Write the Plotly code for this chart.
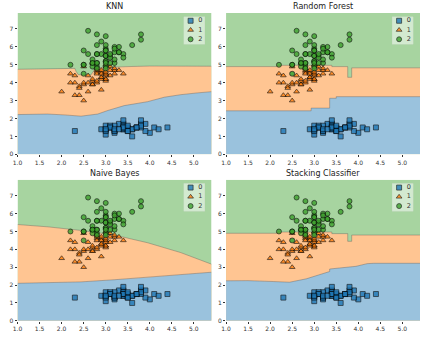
import plotly.graph_objects as go

# Iris features: sepal width (x) and petal length (y), per class
SW_0 = [3.5, 3.0, 3.2, 3.1, 3.6, 3.9, 3.4, 3.4, 2.9, 3.1, 3.7, 3.4, 3.0, 3.0, 4.0, 4.4, 3.9, 3.5, 3.8, 3.8,
        3.4, 3.7, 3.6, 3.3, 3.4, 3.0, 3.4, 3.5, 3.4, 3.2, 3.1, 3.4, 4.1, 4.2, 3.1, 3.2, 3.5, 3.6, 3.0, 3.4,
        3.5, 2.3, 3.2, 3.5, 3.8, 3.0, 3.8, 3.2, 3.7, 3.3]
PL_0 = [1.4, 1.4, 1.3, 1.5, 1.4, 1.7, 1.4, 1.5, 1.4, 1.5, 1.5, 1.6, 1.4, 1.1, 1.2, 1.5, 1.3, 1.4, 1.7, 1.5,
        1.7, 1.5, 1.0, 1.7, 1.9, 1.6, 1.6, 1.5, 1.4, 1.6, 1.6, 1.5, 1.5, 1.4, 1.5, 1.2, 1.3, 1.4, 1.3, 1.5,
        1.3, 1.3, 1.3, 1.6, 1.9, 1.4, 1.6, 1.4, 1.5, 1.4]
SW_1 = [3.2, 3.2, 3.1, 2.3, 2.8, 2.8, 3.3, 2.4, 2.9, 2.7, 2.0, 3.0, 2.2, 2.9, 2.9, 3.1, 3.0, 2.7, 2.2, 2.5,
        3.2, 2.8, 2.5, 2.8, 2.9, 3.0, 2.8, 3.0, 2.9, 2.6, 2.4, 2.4, 2.7, 2.7, 3.0, 3.4, 3.1, 2.3, 3.0, 2.5,
        2.6, 3.0, 2.6, 2.3, 2.7, 3.0, 2.9, 2.9, 2.5, 2.8]
PL_1 = [4.7, 4.5, 4.9, 4.0, 4.6, 4.5, 4.7, 3.3, 4.6, 3.9, 3.5, 4.2, 4.0, 4.7, 3.6, 4.4, 4.5, 4.1, 4.5, 3.9,
        4.8, 4.0, 4.9, 4.7, 4.3, 4.4, 4.8, 5.0, 4.5, 3.5, 3.8, 3.7, 3.9, 5.1, 4.5, 4.5, 4.7, 4.4, 4.1, 4.0,
        4.4, 4.6, 4.0, 3.3, 4.2, 4.2, 4.2, 4.3, 3.0, 4.1]
SW_2 = [3.3, 2.7, 3.0, 2.9, 3.0, 3.0, 2.5, 2.9, 2.5, 3.6, 3.2, 2.7, 3.0, 2.5, 2.8, 3.2, 3.0, 3.8, 2.6, 2.2,
        3.2, 2.8, 2.8, 2.7, 3.3, 3.2, 2.8, 3.0, 2.8, 3.0, 2.8, 3.8, 2.8, 2.8, 2.6, 3.0, 3.4, 3.1, 3.0, 3.1,
        3.1, 3.1, 2.7, 3.2, 3.3, 3.0, 2.5, 3.0, 3.4, 3.0]
PL_2 = [6.0, 5.1, 5.9, 5.6, 5.8, 6.6, 4.5, 6.3, 5.8, 6.1, 5.1, 5.3, 5.5, 5.0, 5.1, 5.3, 5.5, 6.7, 6.9, 5.0,
        5.7, 4.9, 6.7, 4.9, 5.7, 6.0, 4.8, 4.9, 5.6, 5.8, 6.1, 6.4, 5.6, 5.1, 5.6, 6.1, 5.6, 5.5, 4.8, 5.4,
        5.6, 5.1, 5.1, 5.9, 5.7, 5.2, 5.0, 5.2, 5.4, 5.1]

CLASS_LABELS = ["0", "1", "2"]
X_RANGE = [1.0, 5.4]
Y_RANGE = [0.0, 7.9]
X_TICKS = [1.0, 1.5, 2.0, 2.5, 3.0, 3.5, 4.0, 4.5, 5.0]
Y_TICKS = [0, 1, 2, 3, 4, 5, 6, 7]

TITLES = ["KNN", "Random Forest", "Naive Bayes", "Stacking Classifier"]

# Decision boundaries (class 1 / class 2 upper, class 0 / class 1 lower)
KNN_UP_X = [1.0, 1.8, 2.3, 2.33, 2.38, 2.66, 2.72, 2.76, 3.0, 3.5, 4.0, 4.6, 5.4]
KNN_UP_Y = [4.75, 4.77, 4.8, 4.62, 4.45, 4.43, 4.62, 4.83, 4.86, 4.9, 4.93, 4.93, 4.92]
KNN_LO_X = [1.0, 1.68, 2.07, 2.44, 2.82, 3.05, 3.42, 3.95, 4.33, 4.7, 5.08, 5.4]
KNN_LO_Y = [2.22, 2.25, 2.2, 2.13, 2.25, 2.45, 2.72, 2.94, 3.19, 3.33, 3.43, 3.5]

RF_UP_X = [1.0, 2.15, 2.15, 3.4, 3.4, 3.76, 3.76, 3.85, 3.85, 5.4]
RF_UP_Y = [4.9, 4.9, 4.97, 4.97, 4.9, 4.9, 4.3, 4.3, 4.83, 4.83]
RF_LO_X = [1.0, 2.93, 2.93, 3.35, 3.35, 3.5, 3.5, 5.4]
RF_LO_Y = [2.43, 2.43, 2.58, 2.58, 3.13, 3.13, 3.22, 3.22]

NB_UP_X = [1.0, 1.69, 2.44, 3.2, 3.95, 4.7, 5.4]
NB_UP_Y = [5.39, 5.26, 5.06, 4.8, 4.37, 3.82, 3.17]
NB_LO_X = [1.0, 2.44, 3.2, 3.95, 4.7, 5.4]
NB_LO_Y = [2.1, 2.18, 2.3, 2.43, 2.58, 2.72]

ST_UP_X = [1.0, 2.15, 2.15, 3.4, 3.4, 3.76, 3.76, 3.85, 3.85, 5.4]
ST_UP_Y = [4.9, 4.9, 4.97, 4.97, 4.88, 4.88, 4.45, 4.45, 4.8, 4.8]
ST_LO_X = [1.0, 1.5, 2.07, 2.44, 2.82, 3.2, 3.35, 3.35, 3.95, 4.2, 4.35, 5.4]
ST_LO_Y = [2.24, 2.25, 2.2, 2.16, 2.35, 2.62, 2.76, 2.9, 3.05, 3.2, 3.22, 3.22]

# small class-2 island around one point (tree based models)
ISLAND_X = [2.45, 2.55]
ISLAND_Y = [4.42, 4.6]

BOUNDS = [
    (KNN_UP_X, KNN_UP_Y, KNN_LO_X, KNN_LO_Y, False),
    (RF_UP_X, RF_UP_Y, RF_LO_X, RF_LO_Y, True),
    (NB_UP_X, NB_UP_Y, NB_LO_X, NB_LO_Y, False),
    (ST_UP_X, ST_UP_Y, ST_LO_X, ST_LO_Y, True),
]

MARK_COLORS = ["#1f77b4", "#ff7f0e", "#3ca02c"]
REGION_COLORS = ["#9ac2dd", "#ffc592", "#a7d4a0"]
SYMBOLS = ["square", "triangle-up", "circle"]
POINTS = [(SW_0, PL_0), (SW_1, PL_1), (SW_2, PL_2)]

W, H = 422, 337
# axes placement in pixels: (left, right) per column, (top, bottom) per row
COL_PX = [(12.7, 209.0), (223.7, 420.0)]
ROW_PX = [(13.0, 155.7), (181.3, 323.7)]

# legend key box, offsets from the axes' top-right corner (pixels)
LEG_BOX = dict(left=28.3, right=6.7, top=3.7, bottom=32.0)
LEG_KEY_X = 0.33
LEG_TEXT_X = 0.78
LEG_ROWS = [0.85, 0.52, 0.19]

FONT = "DejaVu Sans"


def px_x(v):
    return v / W


def px_y(v):
    return 1 - v / H


fig = go.Figure()
layout = dict(
    width=W, height=H, margin=dict(l=0, r=0, t=0, b=0),
    paper_bgcolor="white", plot_bgcolor="rgba(0,0,0,0)",
    font=dict(family=FONT, size=6, color="#333"),
    annotations=[], showlegend=False,
)

for i in range(4):
    n = i + 1
    sfx = "" if n == 1 else str(n)
    xa, ya = "x" + sfx, "y" + sfx
    col, row = i % 2, i // 2
    (L, R), (T, B) = COL_PX[col], ROW_PX[row]
    up_x, up_y, lo_x, lo_y, island = BOUNDS[i]
    x0, x1 = X_RANGE
    y0, y1 = Y_RANGE

    # class 2 region: whole plane
    fig.add_trace(go.Scatter(x=[x0, x1, x1, x0, x0], y=[y0, y0, y1, y1, y0], mode="lines",
                             fill="toself", fillcolor=REGION_COLORS[2], line=dict(width=0),
                             hoverinfo="skip", xaxis=xa, yaxis=ya))
    # class 1 region: below the upper boundary
    fig.add_trace(go.Scatter(x=[x0] + up_x + [x1, x0], y=[y0] + up_y + [y0, y0], mode="lines",
                             fill="toself", fillcolor=REGION_COLORS[1], line=dict(width=0),
                             hoverinfo="skip", xaxis=xa, yaxis=ya))
    # class 0 region: below the lower boundary
    fig.add_trace(go.Scatter(x=[x0] + lo_x + [x1, x0], y=[y0] + lo_y + [y0, y0], mode="lines",
                             fill="toself", fillcolor=REGION_COLORS[0], line=dict(width=0),
                             hoverinfo="skip", xaxis=xa, yaxis=ya))
    if island:
        ix0, ix1 = ISLAND_X
        iy0, iy1 = ISLAND_Y
        fig.add_trace(go.Scatter(x=[ix0, ix1, ix1, ix0, ix0], y=[iy0, iy0, iy1, iy1, iy0], mode="lines",
                                 fill="toself", fillcolor=REGION_COLORS[2],
                                 line=dict(width=0.6, color="rgba(90,90,90,0.6)"),
                                 hoverinfo="skip", xaxis=xa, yaxis=ya))
    # contour lines
    for bx, by in ((up_x, up_y), (lo_x, lo_y)):
        fig.add_trace(go.Scatter(x=bx, y=by, mode="lines",
                                 line=dict(width=0.7, color="rgba(90,90,90,0.55)"),
                                 hoverinfo="skip", xaxis=xa, yaxis=ya))
    # samples
    for c in range(3):
        sx, sy = POINTS[c]
        fig.add_trace(go.Scatter(
            x=sx, y=sy, mode="markers", name=CLASS_LABELS[c],
            marker=dict(symbol=SYMBOLS[c], size=5, color=MARK_COLORS[c], opacity=0.8,
                        line=dict(width=0.7, color="black")),
            xaxis=xa, yaxis=ya))

    layout["xaxis" + sfx] = dict(domain=[px_x(L), px_x(R)], range=X_RANGE, anchor=ya, tickvals=X_TICKS,
                                 ticktext=[f"{v:.1f}" for v in X_TICKS], ticks="outside", ticklen=2,
                                 tickwidth=0.6, tickcolor="#333", showgrid=False, zeroline=False,
                                 showline=False, tickfont=dict(size=6), fixedrange=True)
    layout["yaxis" + sfx] = dict(domain=[px_y(B), px_y(T)], range=Y_RANGE, anchor=xa, tickvals=Y_TICKS,
                                 ticks="outside", ticklen=2, tickwidth=0.6, tickcolor="#333",
                                 showgrid=False, zeroline=False, showline=False,
                                 tickfont=dict(size=6), fixedrange=True)
    layout["annotations"].append(dict(
        text=TITLES[i], xref="paper", yref="paper", x=px_x((L + R) / 2), y=px_y(T - 6.3),
        xanchor="center", yanchor="middle", showarrow=False,
        font=dict(size=8, family=FONT, color="#222")))

    # legend key panel in its own small overlay axes
    ln = n + 4
    lxa, lya = "x" + str(ln), "y" + str(ln)
    layout["xaxis" + str(ln)] = dict(domain=[px_x(R - LEG_BOX["left"]), px_x(R - LEG_BOX["right"])],
                                     range=[0, 1], anchor=lya, visible=False, fixedrange=True)
    layout["yaxis" + str(ln)] = dict(domain=[px_y(T + LEG_BOX["bottom"]), px_y(T + LEG_BOX["top"])],
                                     range=[0, 1], anchor=lxa, visible=False, fixedrange=True)
    fig.add_trace(go.Scatter(x=[0, 1, 1, 0, 0], y=[0, 0, 1, 1, 0], mode="lines", fill="toself",
                             fillcolor="rgba(255,255,255,0.5)",
                             line=dict(width=0.6, color="rgba(215,215,215,0.7)"),
                             hoverinfo="skip", xaxis=lxa, yaxis=lya))
    for c in range(3):
        fig.add_trace(go.Scatter(
            x=[LEG_KEY_X], y=[LEG_ROWS[c]], mode="markers+text", text=[""],
            marker=dict(symbol=SYMBOLS[c], size=5, color=MARK_COLORS[c], opacity=0.8,
                        line=dict(width=0.7, color="black")),
            hoverinfo="skip", xaxis=lxa, yaxis=lya))
        fig.add_trace(go.Scatter(
            x=[LEG_TEXT_X], y=[LEG_ROWS[c]], mode="text", text=[CLASS_LABELS[c]],
            textfont=dict(size=6.5, family=FONT, color="#333"), textposition="middle center",
            hoverinfo="skip", xaxis=lxa, yaxis=lya))

fig.update_layout(**layout)
fig.write_html("out.html")
